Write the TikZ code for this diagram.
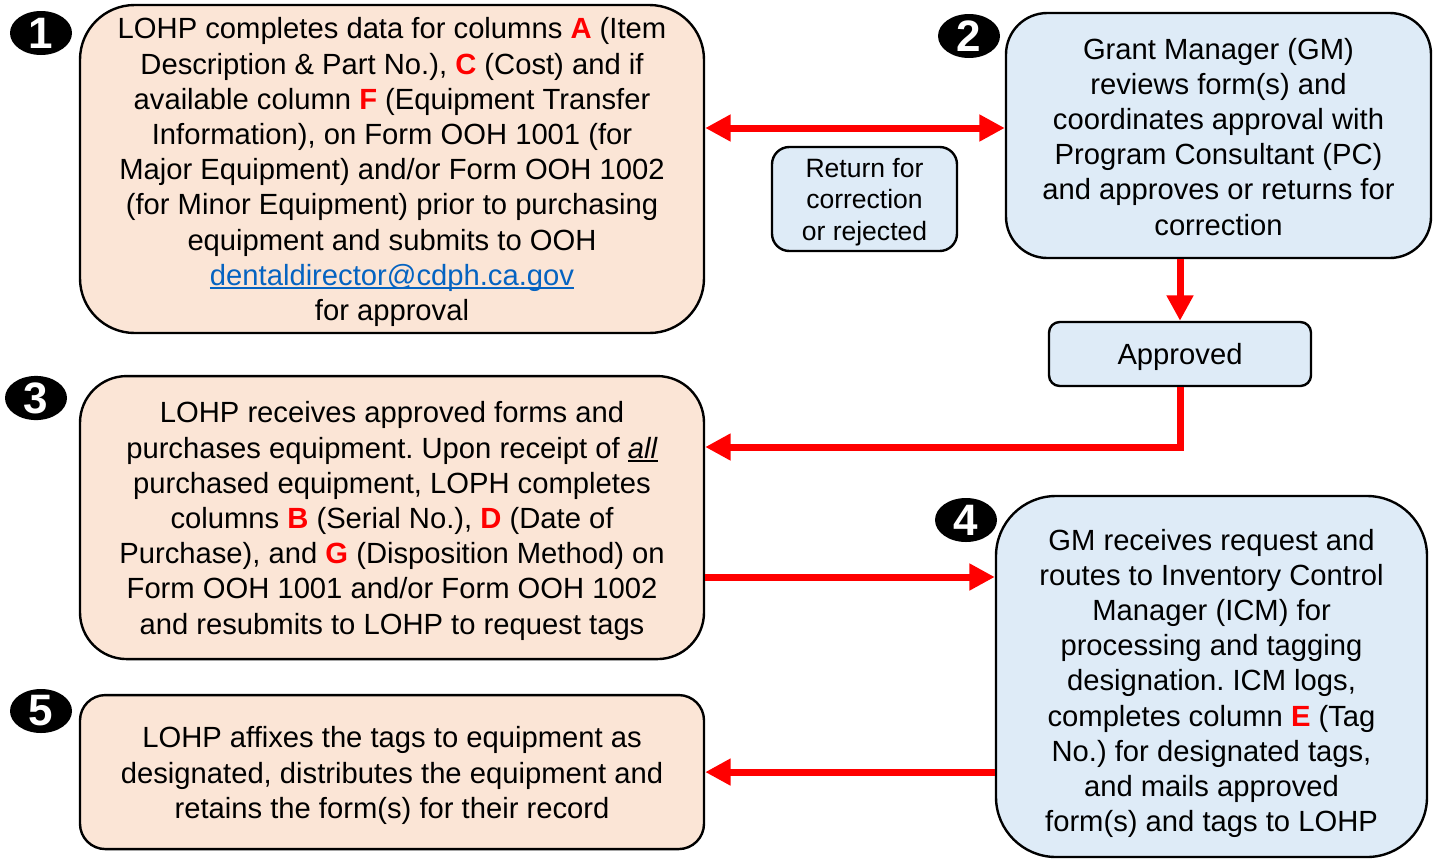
\documentclass[tikz,border=0pt]{standalone}
\usepackage{xcolor}
\usepackage{fontspec}
\setmainfont{Liberation Sans}
\usepackage{tikz}
\usetikzlibrary{shapes.geometric, arrows.meta, positioning}
\frenchspacing
\definecolor{peach}{HTML}{FBE5D6}
\definecolor{paleblue}{HTML}{DEEBF7}
\definecolor{linkblue}{HTML}{0563C1}
\newcommand{\col}[1]{\textbf{\color{red}#1}}
\newcommand{\lowline}[1]{\setbox0=\hbox{#1}\leavevmode\rlap{\rule[-2.6pt]{\wd0}{1.1pt}}\box0}
\newcommand{\lift}[1]{\rule{0pt}{#1}}
\tikzstyle{box} = [rectangle, draw=black, line width=1.8pt, align=center, inner sep=0pt, font=\fontsize{21.9}{26.4}\selectfont]
\tikzstyle{lohp} = [box, fill=peach]
\tikzstyle{gm} = [box, fill=paleblue]
\tikzstyle{badge} = [ellipse, fill=black, text=white, inner sep=0pt, minimum width=46.5pt, minimum height=33pt, font=\fontsize{33}{33}\selectfont\bfseries]
\tikzstyle{arrow} = [line width=5.25pt, red, -{Triangle[length=19pt,width=19pt]}]
\tikzstyle{twoway} = [line width=5.25pt, red, {Triangle[length=19pt,width=19pt]}-{Triangle[length=19pt,width=19pt]}]

\begin{document}
\begin{tikzpicture}[x=0.75pt, y=-0.75pt]
  \useasboundingbox (0,0) rectangle (1436,858);
  % nodes
    \node (lohpform) [lohp, minimum width=468pt, minimum height=246pt, rounded corners=41pt] at (392,169)
      {\lift{20.5pt}LOHP completes data for columns \col{A} (Item\\
       Description \& Part No.), \col{C} (Cost) and if\\
       available column \col{F} (Equipment Transfer\\
       Information), on Form OOH 1001 (for\\
       Major Equipment) and/or Form OOH 1002\\
       (for Minor Equipment) prior to purchasing\\
       equipment and submits to OOH\\
       {\color{linkblue}\lowline{dentaldirector@cdph.ca.gov}}\\
       for approval};
    \node (gmreview) [gm, minimum width=318.75pt, minimum height=183.75pt, rounded corners=31pt] at (1218.5,135.5)
      {\lift{17.5pt}Grant Manager (GM)\\
       reviews form(s) and\\
       coordinates approval with\\
       Program Consultant (PC)\\
       and approves or returns for\\
       correction};
    \node (returnbox) [gm, minimum width=138.75pt, minimum height=78pt, rounded corners=13pt, font=\fontsize{19.9}{23.6}\selectfont] at (864.5,199)
      {\lift{19pt}Return for\\ correction\\ or rejected};
    \node (approved) [gm, minimum width=196.5pt, minimum height=48pt, rounded corners=8pt] at (1180,354) {\lift{20.5pt}Approved};
    \node (purchase) [lohp, minimum width=468pt, minimum height=212.25pt, rounded corners=35pt, below=30.5pt of lohpform]
      {\lift{21pt}LOHP receives approved forms and\\
       purchases equipment. Upon receipt of \lowline{\textit{all}}\\
       purchased equipment, LOPH completes\\
       columns \col{B} (Serial No.), \col{D} (Date of\\
       Purchase), and \col{G} (Disposition Method) on\\
       Form OOH 1001 and/or Form OOH 1002\\
       and resubmits to LOHP to request tags};
    \node (icmtag) [gm, minimum width=323.25pt, minimum height=270.75pt, rounded corners=45pt] at (1211.5,676.5)
      {\lift{26pt}GM receives request and\\
       routes to Inventory Control\\
       Manager (ICM) for\\
       processing and tagging\\
       designation. ICM logs,\\
       completes column \col{E} (Tag\\
       No.) for designated tags,\\
       and mails approved\\
       form(s) and tags to LOHP};
    \node (affixtags) [lohp, minimum width=468pt, minimum height=115.5pt, rounded corners=19pt, below=25.2pt of purchase]
      {\lift{21pt}LOHP affixes the tags to equipment as\\
       designated, distributes the equipment and\\
       retains the form(s) for their record};
  % step numbers
    \node (stepone) [badge] at (41,33) {1};
    \node (steptwo) [badge] at (969,36) {2};
    \node (stepthree) [badge] at (36,398) {3};
    \node (stepfour) [badge] at (966,520) {4};
    \node (stepfive) [badge] at (41,711) {5};
  % levels of the arrows
    \coordinate (rowone) at (0,128);
    \coordinate (rowthree) at (0,447);
    \coordinate (rowfour) at (0,577);
  % arrows
    \draw [twoway] (lohpform.east |- rowone) -- (gmreview.west |- rowone);
    \draw [arrow] (gmreview.south -| approved.north) -- (approved.north);
    \draw [arrow] (approved.south) |- (purchase.east |- rowthree);
    \draw [arrow] (purchase.east |- rowfour) -- (icmtag.west |- rowfour);
    \draw [arrow] (icmtag.west |- affixtags.east) -- (affixtags.east);
  \end{tikzpicture}
\end{document}
